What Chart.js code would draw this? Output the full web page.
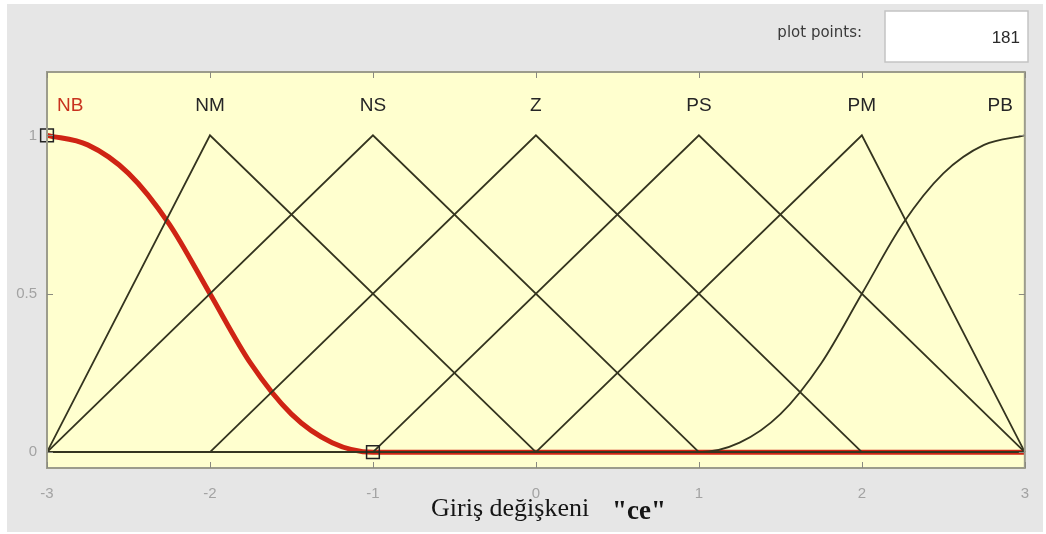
<!DOCTYPE html>
<html>
<head>
<meta charset="utf-8">
<script src="https://cdn.jsdelivr.net/npm/chart.js@4"></script>
<style>
  html, body { margin: 0; padding: 0; background: #ffffff; }
  #wrap { width: 1046px; height: 534px; position: relative; }
</style>
</head>
<body>
<div id="wrap"><canvas id="mfChart" width="1046" height="534"></canvas></div>
<script>
// Eksen ve etiketler
const xTicks = [-3, -2, -1, 0, 1, 2, 3];
const yTicks = [0, 0.5, 1];
const mfNames = ['NB', 'NM', 'NS', 'Z', 'PS', 'PM', 'PB'];
const mfPeaks = [-3, -2, -1, 0, 1, 2, 3];
const plotPoints = '181';
const axisLabel = 'Giriş değişkeni';
const varName = '"ce"';

// Üyelik fonksiyonları
const nbX = [-3, -2.75, -2.5, -2.25, -2, -1.75, -1.5, -1.25, -1, 3];
const nbY = [1, 0.97, 0.88, 0.72, 0.5, 0.28, 0.12, 0.03, 0, 0];
const nmX = [-3, -2, 0, 3];
const nmY = [0, 1, 0, 0];
const nsX = [-3, -1, 1, 3];
const nsY = [0, 1, 0, 0];
const zX = [-3, -2, 0, 2, 3];
const zY = [0, 0, 1, 0, 0];
const psX = [-3, -1, 1, 3];
const psY = [0, 0, 1, 0];
const pmX = [-3, 0, 2, 3];
const pmY = [0, 0, 1, 0];
const pbX = [-3, 1, 1.25, 1.5, 1.75, 2, 2.25, 2.5, 2.75, 3];
const pbY = [0, 0, 0.03, 0.12, 0.28, 0.5, 0.72, 0.88, 0.97, 1];
// seçili fonksiyonun uç noktaları
const markX = [-3, -1];
const markY = [1, 0];

const toPts = (xs, ys) => xs.map((x, i) => ({ x: x, y: ys[i] }));

const lineColor = '#34341f';
const redColor = '#cf2414';

function mf(xs, ys, smooth) {
    return {
        data: toPts(xs, ys),
        showLine: true,
        borderColor: lineColor,
        borderWidth: 1.8,
        pointRadius: 0,
        tension: 0,
        cubicInterpolationMode: smooth ? 'monotone' : 'default',
        order: 1
    };
}

// Arka plan, kutu, iç çentikler ve yazılar
const decor = {
    id: 'decor',
    beforeDraw(chart) {
        const ctx = chart.ctx;
        const a = chart.chartArea;
        ctx.save();
        ctx.fillStyle = '#ffffff';
        ctx.fillRect(0, 0, chart.width, chart.height);
        ctx.fillStyle = '#e6e6e6';
        ctx.fillRect(7, 4, 1036, 528);
        ctx.fillStyle = '#ffffcf';
        ctx.fillRect(a.left, a.top, a.right - a.left, a.bottom - a.top);

        // plot points kutusu
        ctx.fillStyle = '#ffffff';
        ctx.fillRect(885, 11, 143, 51);
        ctx.strokeStyle = '#c4c4c4';
        ctx.lineWidth = 1.5;
        ctx.strokeRect(885, 11, 143, 51);
        ctx.fillStyle = '#2a2a2a';
        ctx.font = '17px Arial, "Liberation Sans", sans-serif';
        ctx.textAlign = 'right';
        ctx.textBaseline = 'middle';
        ctx.fillText(plotPoints, 1020, 38);
        ctx.fillStyle = '#3a3a3a';
        ctx.font = '15px "DejaVu Sans", sans-serif';
        ctx.fillText('plot points:', 862, 33);
        ctx.restore();
    },
    afterDraw(chart) {
        const ctx = chart.ctx;
        const a = chart.chartArea;
        const xs = chart.scales.x;
        const ys = chart.scales.y;
        ctx.save();
        ctx.strokeStyle = '#9c9c8c';
        ctx.lineWidth = 2;
        ctx.strokeRect(a.left, a.top, a.right - a.left, a.bottom - a.top);
        ctx.lineWidth = 1;
        ctx.strokeStyle = '#8a8a80';
        ctx.beginPath();
        xTicks.forEach(v => {
            const p = Math.round(xs.getPixelForValue(v)) + 0.5;
            ctx.moveTo(p, a.bottom); ctx.lineTo(p, a.bottom - 6);
            ctx.moveTo(p, a.top); ctx.lineTo(p, a.top + 6);
        });
        yTicks.forEach(v => {
            const p = Math.round(ys.getPixelForValue(v)) + 0.5;
            ctx.moveTo(a.left, p); ctx.lineTo(a.left + 6, p);
            ctx.moveTo(a.right, p); ctx.lineTo(a.right - 6, p);
        });
        ctx.stroke();

        // fonksiyon adları
        ctx.font = '19px Arial, "Liberation Sans", sans-serif';
        ctx.textBaseline = 'middle';
        ctx.textAlign = 'left';
        const ly = ys.getPixelForValue(1.094);
        mfNames.forEach((n, i) => {
            const w = ctx.measureText(n).width;
            let px = xs.getPixelForValue(mfPeaks[i]) - w / 2;
            if (px < a.left + 10) px = a.left + 10;
            if (px + w > a.right - 12) px = a.right - 12 - w;
            ctx.fillStyle = i === 0 ? '#c8321e' : '#262626';
            ctx.fillText(n, px, ly);
        });

        // eksen başlığı
        ctx.fillStyle = '#151515';
        ctx.textBaseline = 'alphabetic';
        ctx.font = '26px "Liberation Serif", "Times New Roman", serif';
        ctx.fillText(axisLabel, 431, 516);
        ctx.font = 'bold 27px "Liberation Serif", "Times New Roman", serif';
        ctx.fillText(varName, 612, 519);
        ctx.restore();
    }
};

const ctxMf = document.getElementById('mfChart').getContext('2d');

const mfChart = new Chart(ctxMf, {
    type: 'scatter',
    data: {
        datasets: [
            {
                data: toPts(markX, markY),
                showLine: false,
                pointStyle: 'rect',
                pointRadius: 9,
                pointBackgroundColor: 'rgba(0,0,0,0)',
                pointBorderColor: '#222222',
                pointBorderWidth: 1.5,
                order: -1
            },
            {
                data: toPts(nbX, nbY),
                showLine: true,
                borderColor: redColor,
                borderWidth: 5,
                pointRadius: 0,
                cubicInterpolationMode: 'monotone',
                order: 2
            },
            mf(nmX, nmY, false),
            mf(nsX, nsY, false),
            mf(zX, zY, false),
            mf(psX, psY, false),
            mf(pmX, pmY, false),
            mf(pbX, pbY, true)
        ]
    },
    options: {
        responsive: false,
        animation: false,
        clip: false,
        layout: { padding: { top: 72, right: 14, left: 0, bottom: 0 } },
        plugins: {
            legend: { display: false },
            tooltip: { enabled: false }
        },
        scales: {
            x: {
                type: 'linear',
                min: -3,
                max: 3,
                grid: { display: false, drawTicks: false },
                border: { display: false },
                afterBuildTicks: s => { s.ticks = xTicks.map(v => ({ value: v })); },
                afterFit: s => { s.height = 66; },
                ticks: {
                    color: '#a3a3a3',
                    padding: 17,
                    font: { family: 'Arial, "Liberation Sans", sans-serif', size: 15 },
                    maxRotation: 0
                }
            },
            y: {
                type: 'linear',
                min: -0.05,
                max: 1.2,
                grid: { display: false, drawTicks: false },
                border: { display: false },
                afterBuildTicks: s => { s.ticks = yTicks.map(v => ({ value: v })); },
                afterFit: s => { s.width = 47; },
                ticks: {
                    color: '#a3a3a3',
                    padding: 10,
                    font: { family: 'Arial, "Liberation Sans", sans-serif', size: 15 },
                    callback: v => String(v)
                }
            }
        }
    },
    plugins: [decor]
});
</script>
</body>
</html>
